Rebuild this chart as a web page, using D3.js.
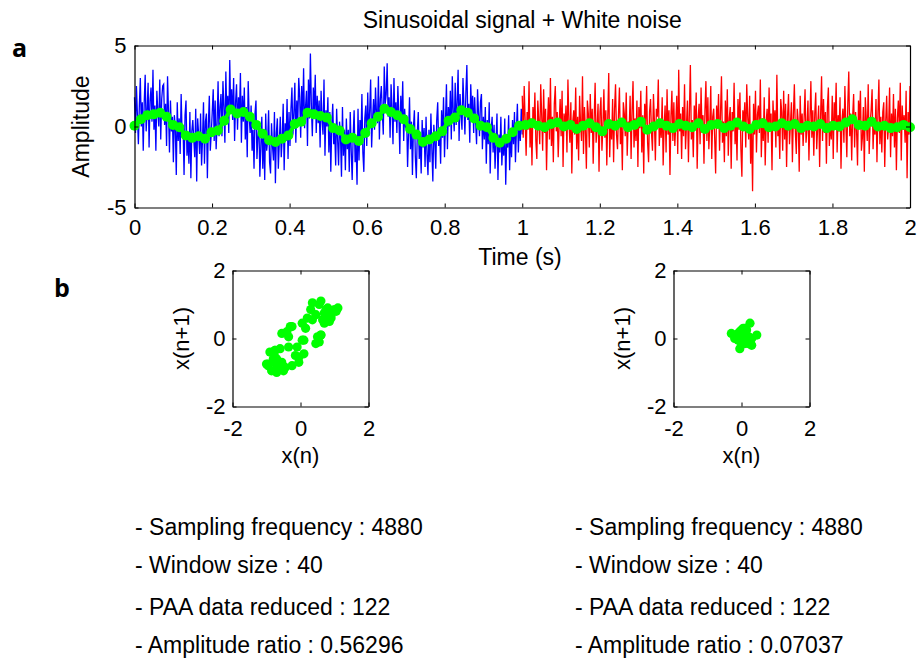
<!DOCTYPE html>
<html>
<head>
<meta charset="utf-8">
<script src="https://cdn.jsdelivr.net/npm/d3@7"></script>
<style>
  body { margin: 0; background: #fff; }
  svg text { fill: #000; }
</style>
</head>
<body>
<svg id="chart" width="920" height="660"></svg>
<script>
// raw signal, first second (sinusoid + noise)
const blueSignal = [
  1.8, -0.4, 2.5, 0.7, -1.1, 1.3, 3.0, 0.0, 1.5, -1.5, 1.5, 3.2, -0.3, 1.0, 2.7, -1.3, 1.6, 2.4, 0.3, 3.5,
  -0.2, 1.3, -1.5, 2.2, 0.9, 0.0, 2.9, -0.8, 1.7, 2.5, 2.6, 0.1, 1.4, -1.2, 3.1, 0.9, -1.6, 1.6, -0.3, 0.6,
  -2.2, 0.7, -0.1, -3.0, 1.5, -0.9, 0.5, -1.7, 2.0, -0.5, -0.1, -3.0, 0.7, 1.6, -1.8, -0.7, -2.3, 0.9, -3.2, -0.3,
  0.4, -0.8, -1.9, 1.1, -3.4, 0.5, -0.5, -1.7, 0.8, -2.4, -0.8, 1.5, -2.3, 0.3, 0.8, -3.2, 0.1, 1.9, -1.5, -0.4,
  0.9, 2.3, -0.9, 1.6, -1.4, 0.2, 2.8, -0.6, 1.2, 2.0, -0.6, 2.8, 1.2, -1.0, 3.4, 0.6, 1.9, -0.4, 4.1, 1.0,
  2.3, 0.4, 3.0, -0.9, 1.5, 2.6, -0.2, 1.8, 0.7, 3.3, -1.0, 1.9, 0.3, 2.4, -0.8, 1.2, -1.9, 2.8, 0.6, -0.4,
  1.3, -1.5, -0.2, -2.6, 0.8, 1.6, -2.0, -0.6, 0.2, -3.1, -1.2, 0.6, -2.6, -0.3, -3.3, 0.8, -1.5, -0.9, 1.0, -2.2,
  -2.9, 0.2, -1.2, -2.1, 0.9, -3.5, -0.4, 0.5, -2.6, -1.0, 0.6, -1.9, -0.7, 1.4, -2.7, 0.2, -0.9, 1.7, -2.0, 0.9,
  -1.2, 1.1, 2.4, -0.5, 0.8, 2.7, -1.0, 1.6, 0.2, 3.0, 1.8, -0.7, 2.5, 0.4, 3.6, -0.1, 1.2, 2.2, -1.2, 2.9,
  0.5, 4.5, 1.3, -0.6, 2.4, 1.0, 3.2, -0.4, 1.9, 0.2, 1.6, -1.3, 2.2, 0.4, -0.5, 2.9, -1.8, 1.0, 0.0, 1.8,
  -1.6, 0.9, -2.8, 0.1, 1.4, -1.1, -0.3, -2.4, 1.1, -0.8, -2.4, 0.3, -0.7, -3.1, 1.2, -1.8, -0.2, -2.7, 0.5, -1.4,
  -0.2, -2.8, 0.9, -1.5, -3.3, -0.6, 1.0, -2.2, -1.1, -3.6, 1.1, -2.1, 0.4, -0.9, 2.0, -1.6, -2.8, 0.5, 1.3, -1.2,
  2.1, -0.6, 1.0, 2.9, -1.3, 0.5, 1.7, -0.2, 2.4, 0.8, 0.2, 3.1, -0.8, 1.7, 2.5, 0.9, -0.5, 3.7, 1.4, 2.0,
  3.9, 0.6, 1.8, -0.7, 2.6, 1.2, -1.1, 3.0, 0.3, 1.5, -0.4, 2.5, 0.8, -1.7, 1.9, 0.2, 2.8, -0.9, 1.1, -0.1,
  0.7, -2.5, -0.4, 1.8, -1.4, 0.3, -3.0, -0.1, 1.0, -1.9, -3.2, -0.4, 0.9, -2.0, -0.8, -2.9, 0.4, -1.3, -0.1, -2.5,
  0.6, -1.7, -3.0, -0.2, -2.2, 0.8, -1.4, -3.4, 0.1, -0.9, -2.6, 0.4, 1.5, -1.2, -0.3, -2.3, 1.0, -0.7, 1.8, -1.9,
  0.3, 2.6, -1.4, 1.2, 0.0, 2.2, -0.8, 3.1, 0.9, -0.3, 2.7, 0.1, 1.5, 3.5, -0.9, 2.0, 0.7, -0.2, 3.0, 1.3,
  -0.5, 2.1, 3.8, 0.4, 1.4, -1.0, 2.6, 0.8, 1.9, -0.4, 1.8, 0.3, -1.1, 2.3, 0.8, -0.6, 1.5, 2.0, -1.4, 0.6,
  -0.8, 1.2, -2.3, 0.4, -1.1, 1.5, -2.9, -0.2, 0.6, -1.6, 0.1, -2.6, -1.0, 0.8, -3.3, -0.5, -1.6, 0.6, -2.4, -0.9,
  -1.8, 0.5, -3.6, -0.8, -1.3, 0.7, -2.7, -0.3, -1.9, 0.4, -1.1, 0.9, -2.2, -0.2, 1.4, -1.6, 0.3, -0.9, 1.1, -0.5
];
// raw signal, second second (noise only)
const redSignal = [
  1.9, -0.7, 2.5, 0.3, -1.8, 0.9, -0.2, 2.8, -1.3, 0.5, -2.4, 1.2, 0.0, 2.1, -0.9, -2.0, 1.6, 0.4, -1.1, 2.6,
  0.7, -1.5, 2.3, -0.4, 1.1, -2.7, 0.2, 1.8, -0.8, 3.0, -1.2, 0.6, -2.2, 1.4, 2.5, -0.3, 0.9, -1.9, 0.1, 1.7,
  -0.6, 2.2, -2.5, 0.8, -0.1, 1.3, -1.6, 2.9, 0.4, -1.0, 1.5, -2.9, 0.3, 1.0, -0.5, 2.4, -1.4, 0.6, -2.1, 1.9,
  0.2, -0.9, 3.1, -1.7, 1.2, -0.2, -2.6, 1.6, 0.8, -1.3, 2.0, -0.4, 1.1, -2.3, 0.5, 2.7, -1.0, -0.1, 1.4, -2.8,
  0.9, 1.8, -1.5, 0.0, 2.3, -0.7, 1.0, -2.4, 0.6, 3.3, -1.9, 0.4, -0.8, 1.7, -2.2, 1.1, 2.6, -0.5, -1.4, 0.7,
  2.4, -1.1, 0.2, -2.7, 1.5, 0.8, -0.6, 2.1, -1.8, 0.3, -0.3, 1.9, -2.0, 1.0, 2.8, -1.3, 0.5, -0.9, 1.6, -2.5,
  1.2, -0.1, 2.2, -1.6, 0.7, -2.9, 1.4, 0.1, 2.5, -1.0, -2.2, 0.9, 1.7, -0.4, -1.5, 2.0, 0.3, -2.1, 1.1, 0.6,
  2.9, -1.2, 0.4, -0.7, 1.8, -2.4, 0.0, 1.3, -1.6, 2.3, -0.5, 1.0, -3.0, 0.6, 2.2, -0.9, 1.5, -1.2, 0.2, 1.9,
  -1.7, 3.5, -0.3, 0.8, -2.0, 1.2, -0.6, 2.6, -1.4, 0.1, 1.6, -2.2, 0.9, 3.8, -0.8, 0.4, -1.9, 1.3, -0.2, 2.1,
  -2.6, 0.5, 1.4, -1.1, 2.4, -0.4, 0.7, -2.3, 1.0, 2.8, -0.9, 1.8, -1.4, 0.2, 2.5, -2.0, 0.6, 1.1, -0.7, -2.9,
  1.3, 0.0, 2.0, -1.5, 0.8, 3.1, -1.0, 0.3, -2.2, 1.6, -0.6, 2.3, -1.8, 0.5, 1.2, -2.6, 0.9, -0.3, 2.7, -1.1,
  0.4, -2.1, 1.7, -0.2, 2.1, -1.4, -3.1, 1.0, 0.2, 1.5, -1.3, 2.6, 0.6, -0.8, 1.9, -2.3, 0.1, -4.0, 1.4, -0.5,
  2.2, -1.6, 0.7, 1.3, -0.4, 2.9, -1.9, 0.5, -0.9, 1.8, -2.4, 0.3, 1.1, -1.0, 2.4, -0.2, 0.8, -2.7, 1.6, 0.0,
  1.0, -1.3, 3.2, -0.6, 0.4, -2.0, 1.7, 0.9, -1.5, 2.2, -0.8, 1.4, -2.5, 0.6, 2.0, -1.1, 0.2, 1.5, -2.2, 0.7,
  2.6, -0.3, -1.7, 1.1, 0.3, -2.8, 1.9, -0.5, 0.8, -1.2, 0.5, 2.3, -1.0, -0.1, 1.6, -2.1, 0.4, 2.8, -0.7, 1.0,
  -1.8, 0.8, 2.1, -1.4, 0.0, 1.3, -2.5, 0.6, 3.1, -0.9, 1.7, -0.4, 0.9, -2.3, 1.2, 2.4, -1.2, 0.3, -0.8, 1.9,
  -2.0, 1.5, 0.2, 2.7, -1.6, 0.7, -0.3, 1.8, -2.6, 0.4, 1.1, -1.0, 2.5, 0.1, -1.9, 1.4, 3.4, -0.6, 0.8, -2.1,
  0.6, 2.0, -1.3, 0.9, -0.2, -2.4, 1.6, 0.3, 2.2, -1.5, -0.7, 1.2, -2.8, 1.8, 0.5, -0.9, 2.6, -1.7, 0.2, 1.0,
  2.3, -1.4, 0.4, -0.5, 1.7, -2.2, 0.8, 2.9, -1.1, 0.6, -1.6, 0.9, 1.5, -2.5, 0.3, 1.9, -0.8, 0.0, 2.4, -1.9,
  0.8, -0.6, 2.0, -1.3, 1.1, -2.7, 0.5, 1.6, -0.4, 2.7, -2.1, 1.3, -0.2, 0.7, -1.0, 2.2, -3.2, 0.9, -0.5, 2.5
];
// PAA reduced values (green), 61 per second
const paaSine = [
  0.05, 0.45, 0.7, 0.75, 0.85, 0.6, 0.1, -0.05, -0.55, -0.7, -0.6, -0.75, -0.35, -0.25, 0.35, 1.05,
  0.8, 0.9, 0.6, 0.1, -0.45, -0.85, -0.95, -0.75, -0.55, 0.15, 0.3, 0.85, 0.75, 0.65, 0.55, -0.1,
  -0.25, -0.8, -0.7, -0.9, -0.4, 0.2, 0.6, 1.1, 0.9, 0.7, 0.45, -0.15, -0.5, -0.95, -0.8, -0.6,
  -0.3, 0.35, 0.55, 1.0, 0.85, 0.5, 0.05, -0.05, -0.7, -1.0, -0.75, -0.35, 0.05
];
const paaNoise = [
  0.1, 0.2, 0.05, -0.05, 0.15, 0.25, 0.0, 0.1, -0.15, 0.05, 0.2, -0.05, -0.3, 0.15, 0.05, 0.25,
  -0.05, 0.1, 0.3, -0.2, 0.0, 0.2, 0.05, -0.1, 0.15, 0.05, -0.05, 0.2, -0.15, 0.1, 0.15, -0.1,
  0.05, 0.25, 0.0, -0.15, 0.1, 0.2, -0.05, 0.0, 0.2, 0.05, 0.15, -0.1, 0.05, 0.0, 0.15, -0.1,
  0.05, 0.0, 0.25, 0.45, 0.1, 0.05, 0.3, 0.0, 0.05, -0.1, -0.05, 0.1, -0.05
];

const timeTicks = [0, 0.2, 0.4, 0.6, 0.8, 1, 1.2, 1.4, 1.6, 1.8, 2];
const ampTicks = [-5, 0, 5];
const scatterTicks = [-2, 0, 2];

const infoLabels = ["Sampling frequency", "Window size", "PAA data reduced", "Amplitude ratio"];
const infoLeft = ["4880", "40", "122", "0.56296"];
const infoRight = ["4880", "40", "122", "0.07037"];

const FONT = '"Liberation Sans", Arial, Helvetica, sans-serif';
const svg = d3.select("#chart");

// matlab style box: inward ticks on all four sides
function boxAxes(g, xs, ys, w, h, xt, yt, padX, padY, fs) {
  let fmt = d => String(d);
  let none = () => "";
  g.append("g").attr("transform", "translate(0," + h + ")")
    .call(d3.axisBottom(xs).tickValues(xt).tickFormat(fmt).tickSize(-4).tickSizeOuter(0).tickPadding(padX));
  g.append("g")
    .call(d3.axisTop(xs).tickValues(xt).tickFormat(none).tickSize(-4).tickSizeOuter(0));
  g.append("g")
    .call(d3.axisLeft(ys).tickValues(yt).tickFormat(fmt).tickSize(-4).tickSizeOuter(0).tickPadding(padY));
  g.append("g").attr("transform", "translate(" + w + ",0)")
    .call(d3.axisRight(ys).tickValues(yt).tickFormat(none).tickSize(-4).tickSizeOuter(0));
  g.selectAll(".domain").attr("stroke", "#000").attr("stroke-width", 1.2);
  g.selectAll(".tick line").attr("stroke", "#000");
  g.selectAll(".tick text").attr("font-family", FONT).attr("font-size", fs).attr("fill", "#000");
}

// ---------- panel a ----------
const A = {x: 134.5, y: 45.5, w: 775.5, h: 162};
const gA = svg.append("g").attr("transform", "translate(" + A.x + "," + A.y + ")");
const x = d3.scaleLinear().domain([0, 2]).range([0, A.w]);
const y = d3.scaleLinear().domain([-5, 5]).range([A.h, 0]);

const blueData = blueSignal.map((v, i) => [i / (blueSignal.length - 1), v]);
const redData = redSignal.map((v, i) => [1 + i / (redSignal.length - 1), v]);
const paa = paaSine.concat(paaNoise);
const paaData = paa.map((v, i) => [2 * i / (paa.length - 1), v]);

const line = d3.line().x(d => x(d[0])).y(d => y(d[1]));

gA.append("path").datum(blueData).attr("d", line)
  .attr("fill", "none").attr("stroke", "#0000ff").attr("stroke-width", 1.3);
gA.append("path").datum(redData).attr("d", line)
  .attr("fill", "none").attr("stroke", "#ff0000").attr("stroke-width", 1.3);
gA.append("path").datum(paaData).attr("d", line)
  .attr("fill", "none").attr("stroke", "#00ff00").attr("stroke-width", 4);
gA.selectAll(".paa").data(paaData).enter().append("circle")
  .attr("class", "paa")
  .attr("cx", d => x(d[0])).attr("cy", d => y(d[1])).attr("r", 5)
  .attr("fill", "#00ff00");

boxAxes(gA, x, y, A.w, A.h, timeTicks, ampTicks, 12, 8, 22);

svg.append("text").attr("x", A.x + A.w / 2).attr("y", 28)
  .attr("text-anchor", "middle").attr("font-family", FONT).attr("font-size", 23)
  .text("Sinusoidal signal + White noise");
svg.append("text").attr("x", 520).attr("y", 265)
  .attr("text-anchor", "middle").attr("font-family", FONT).attr("font-size", 23)
  .text("Time (s)");
svg.append("text").attr("transform", "translate(89," + (A.y + A.h / 2) + ") rotate(-90)")
  .attr("text-anchor", "middle").attr("font-family", FONT).attr("font-size", 23)
  .text("Amplitude");

svg.append("text").attr("x", 12).attr("y", 57)
  .attr("font-family", '"Open Sans", sans-serif').attr("font-weight", "bold").attr("font-size", 25)
  .text("a");
svg.append("text").attr("x", 54).attr("y", 297)
  .attr("font-family", '"Open Sans", sans-serif').attr("font-weight", "bold").attr("font-size", 25)
  .text("b");

// ---------- panel b : x(n) vs x(n+1) ----------
function scatter(left, values) {
  let size = 136;
  let g = svg.append("g").attr("transform", "translate(" + left + ",270.5)");
  let sx = d3.scaleLinear().domain([-2, 2]).range([0, size]);
  let sy = d3.scaleLinear().domain([-2, 2]).range([size, 0]);
  let pairs = d3.pairs(values);

  g.selectAll(".pt").data(pairs).enter().append("circle")
    .attr("class", "pt")
    .attr("cx", d => sx(d[0])).attr("cy", d => sy(d[1])).attr("r", 4.6)
    .attr("fill", "#00ff00");

  boxAxes(g, sx, sy, size, size, scatterTicks, scatterTicks, 14, 7, 22);

  svg.append("text").attr("x", left + size / 2).attr("y", 463)
    .attr("text-anchor", "middle").attr("font-family", FONT).attr("font-size", 22)
    .text("x(n)");
  svg.append("text").attr("transform", "translate(" + (left - 44) + "," + (270.5 + size / 2) + ") rotate(-90)")
    .attr("text-anchor", "middle").attr("font-family", FONT).attr("font-size", 22)
    .text("x(n+1)");
}

scatter(232.5, paaSine);
scatter(673.5, paaNoise);

// ---------- parameters ----------
const lineY = [535, 573, 615, 653];
function info(left, values) {
  svg.selectAll(null).data(infoLabels).enter().append("text")
    .attr("x", left).attr("y", (d, i) => lineY[i])
    .attr("font-family", FONT).attr("font-size", 23)
    .text((d, i) => "- " + d + " : " + values[i]);
}
info(135, infoLeft);
info(575, infoRight);
</script>
</body>
</html>
